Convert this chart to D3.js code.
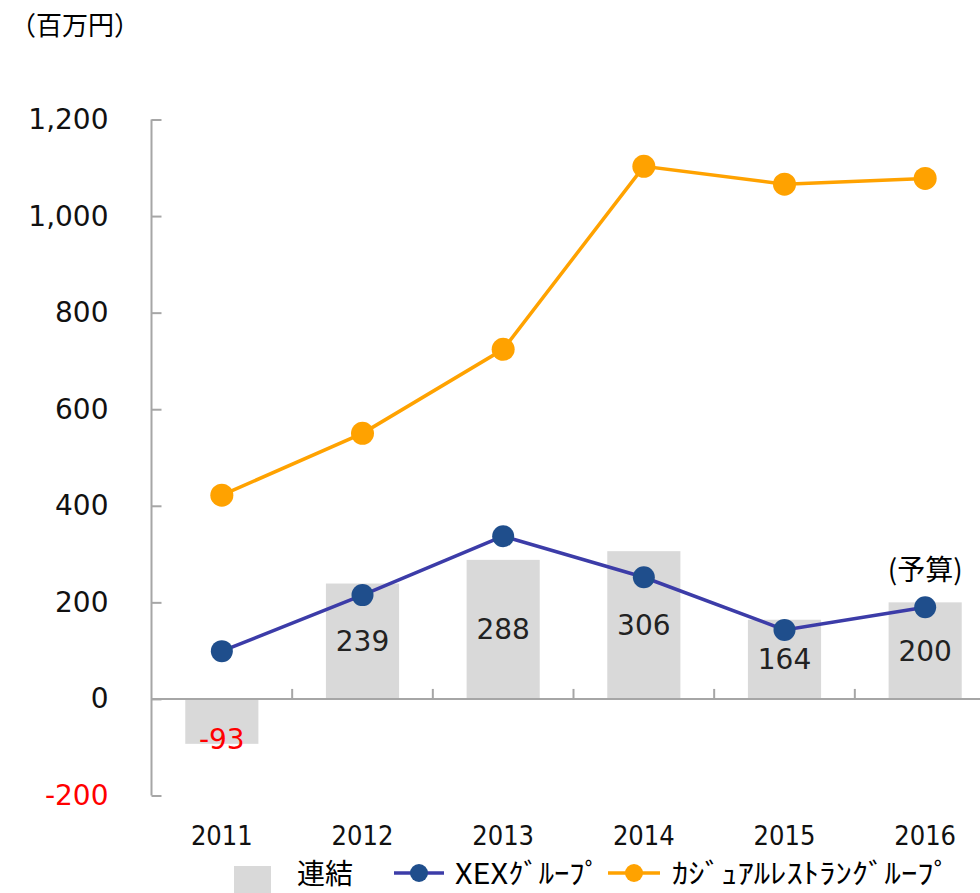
<!DOCTYPE html>
<html>
<head>
  <meta charset="utf-8">
  <script src="https://cdn.jsdelivr.net/npm/d3@7"></script>
  <style>
    body { margin: 0; background: #fff; }
    text { font-family: "DejaVu Sans", sans-serif; }
    .jp { font-family: "Noto Sans CJK JP", sans-serif; }
  </style>
</head>
<body>
<script>
  // chart data
  var years = ["2011", "2012", "2013", "2014", "2015", "2016"];
  var consolidated = [-93, 239, 288, 306, 164, 200];
  var xexGroup = [99, 215, 337, 252, 143, 190];
  var casualGroup = [422, 550, 724, 1103, 1066, 1078];
  var yTicks = [-200, 0, 200, 400, 600, 800, 1000, 1200];

  var width = 980, height = 893;
  var axisGray = "#a6a6a6", barGray = "#d9d9d9";
  var blueLine = "#3c3ca8", blueDot = "#1f4e8c", orange = "#ffa200";

  var svg = d3.select("body").append("svg")
      .attr("width", width)
      .attr("height", height);

  var x = d3.scaleBand().domain(years).range([151.5, 995.5]);
  var y = d3.scaleLinear().domain([-200, 1200]).range([795.5, 119.5]);
  var cx = function(d) { return x(d) + x.bandwidth() / 2; };
  var barW = x.bandwidth() * 0.52;

  // unit label
  svg.append("text").attr("class", "jp")
      .attr("x", 10).attr("y", 35)
      .style("font-size", "26px")
      .text("（百万円）");

  // bars
  svg.selectAll("rect.bar").data(years).enter().append("rect")
      .attr("class", "bar")
      .attr("x", function(d) { return cx(d) - barW / 2; })
      .attr("width", barW)
      .attr("y", function(d, i) { return y(Math.max(0, consolidated[i])); })
      .attr("height", function(d, i) { return Math.abs(y(consolidated[i]) - y(0)); })
      .attr("fill", barGray);

  // y axis
  var fmt = d3.format(",");
  var yAxis = svg.append("g")
      .attr("transform", "translate(151.5,0)")
      .call(d3.axisLeft(y).tickValues(yTicks)
        .tickFormat(function(d) { return fmt(d).replace("\u2212", "-"); })
        .tickSize(-10).tickPadding(43));
  yAxis.select(".domain").attr("stroke", axisGray).attr("stroke-width", 2).attr("d", "M0,119.5V795.5");
  yAxis.selectAll(".tick line").attr("stroke", axisGray).attr("stroke-width", 2);
  yAxis.selectAll(".tick text")
      .style("font-size", "28px")
      .style("font-family", "DejaVu Sans, sans-serif")
      .attr("fill", function(d) { return d < 0 ? "#ff0000" : "#111"; });

  // zero line with category ticks
  svg.append("line")
      .attr("x1", 151.5).attr("x2", width)
      .attr("y1", y(0)).attr("y2", y(0))
      .attr("stroke", axisGray).attr("stroke-width", 2);
  svg.selectAll("line.xtick").data(years.slice(1)).enter().append("line")
      .attr("class", "xtick")
      .attr("x1", function(d) { return x(d); }).attr("x2", function(d) { return x(d); })
      .attr("y1", y(0)).attr("y2", y(0) - 10)
      .attr("stroke", axisGray).attr("stroke-width", 2);

  // year labels
  svg.selectAll("text.year").data(years).enter().append("text")
      .attr("class", "year")
      .attr("x", cx).attr("y", 845)
      .attr("text-anchor", "middle")
      .style("font-size", "27px")
      .style("font-family", "DejaVu Sans Condensed, sans-serif")
      .attr("fill", "#111")
      .text(function(d) { return d; });

  // lines
  var line = function(vals) {
    return d3.line().x(function(d, i) { return cx(years[i]); }).y(function(d) { return y(d); })(vals);
  };
  svg.append("path").attr("d", line(casualGroup))
      .attr("fill", "none").attr("stroke", orange).attr("stroke-width", 3.5);
  svg.selectAll("circle.cas").data(casualGroup).enter().append("circle")
      .attr("class", "cas")
      .attr("cx", function(d, i) { return cx(years[i]); })
      .attr("cy", function(d) { return y(d); })
      .attr("r", 11.5).attr("fill", orange);

  svg.append("path").attr("d", line(xexGroup))
      .attr("fill", "none").attr("stroke", blueLine).attr("stroke-width", 3.5);
  svg.selectAll("circle.xex").data(xexGroup).enter().append("circle")
      .attr("class", "xex")
      .attr("cx", function(d, i) { return cx(years[i]); })
      .attr("cy", function(d) { return y(d); })
      .attr("r", 11).attr("fill", blueDot);

  // bar value labels
  svg.selectAll("text.val").data(consolidated).enter().append("text")
      .attr("class", "val")
      .attr("x", function(d, i) { return cx(years[i]); })
      .attr("y", function(d) { return d < 0 ? y(d) + 5 : (y(d) + y(0)) / 2 + 10; })
      .attr("text-anchor", "middle")
      .style("font-size", "28px")
      .attr("fill", function(d) { return d < 0 ? "#ff0000" : "#222"; })
      .text(function(d) { return d; });

  // budget note
  svg.append("text").attr("class", "jp")
      .attr("x", cx("2016")).attr("y", 580)
      .attr("text-anchor", "middle")
      .style("font-size", "28px")
      .text("(予算)");

  // legend
  var lg = svg.append("g").attr("transform", "translate(0,873)");
  lg.append("rect").attr("x", 234).attr("y", -7).attr("width", 37).attr("height", 27).attr("fill", barGray);
  lg.append("text").attr("class", "jp").attr("x", 297).attr("y", 11).style("font-size", "28px").text("連結");
  lg.append("line").attr("x1", 394).attr("x2", 444).attr("stroke", blueLine).attr("stroke-width", 3.5);
  lg.append("circle").attr("cx", 419).attr("r", 9).attr("fill", blueDot);
  lg.append("text").attr("class", "jp").attr("x", 455).attr("y", 11).style("font-size", "28px")
      .attr("textLength", 145).attr("lengthAdjust", "spacingAndGlyphs").text("XEXｸﾞﾙｰﾌﾟ");
  lg.append("line").attr("x1", 608).attr("x2", 660).attr("stroke", orange).attr("stroke-width", 3.5);
  lg.append("circle").attr("cx", 634).attr("r", 9).attr("fill", orange);
  lg.append("text").attr("class", "jp").attr("x", 672).attr("y", 11).style("font-size", "28px")
      .attr("textLength", 278).attr("lengthAdjust", "spacingAndGlyphs").text("ｶｼﾞｭｱﾙﾚｽﾄﾗﾝｸﾞﾙｰﾌﾟ");
</script>
</body>
</html>
